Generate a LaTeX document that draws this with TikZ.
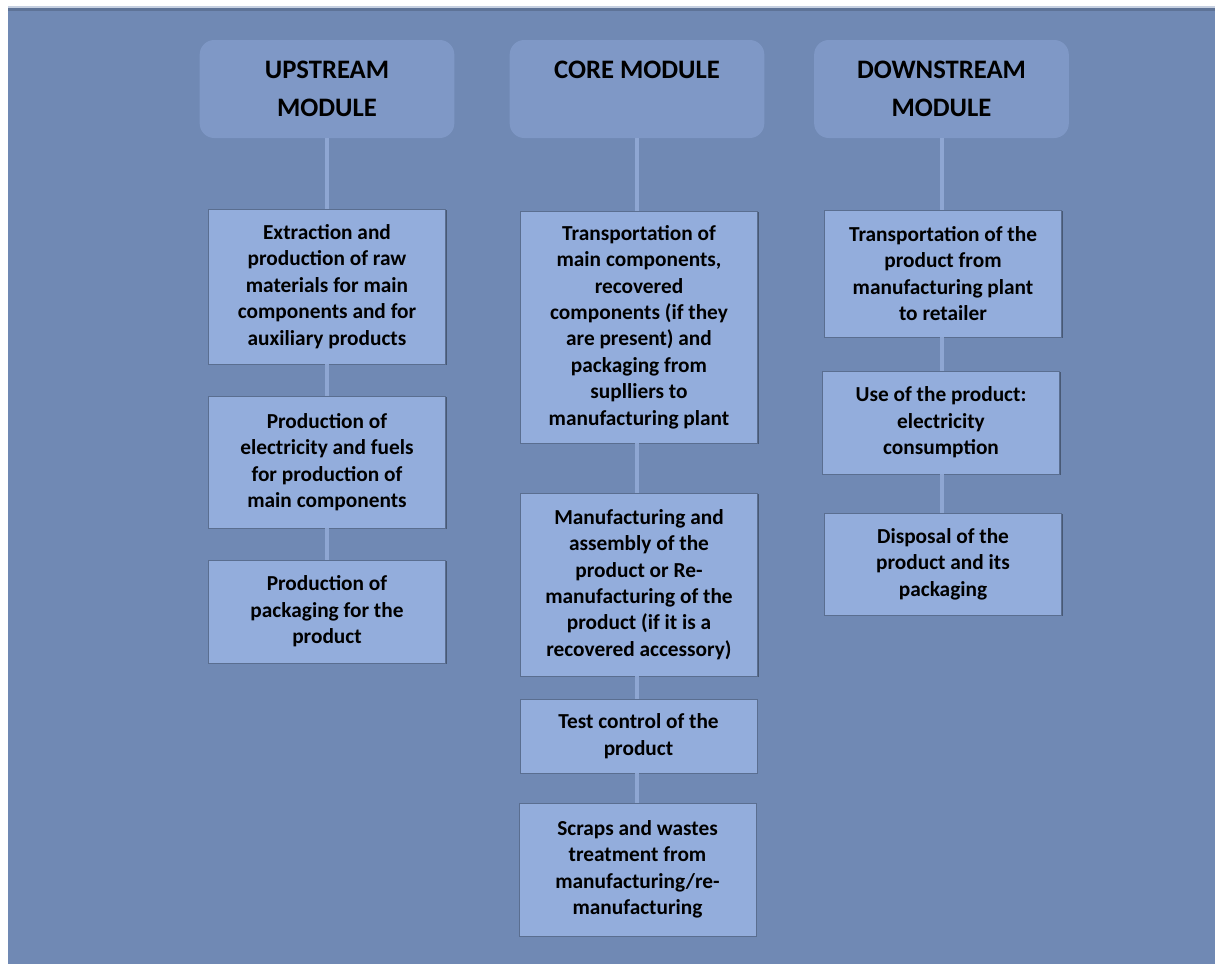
\documentclass[tikz,border=0pt]{standalone}
\usepackage{fontspec}
\setmainfont{Carlito}
\usetikzlibrary{shadows}

\definecolor{panel}{HTML}{7089B4}
\definecolor{headfill}{HTML}{7F98C6}
\definecolor{stagefill}{HTML}{93ADDC}
\definecolor{linkcol}{HTML}{8EA6D2}

\begin{document}
\begin{tikzpicture}[x=0.75pt,y=-0.75pt,
		modhead/.style={rounded corners=11pt, fill=headfill, inner sep=0pt,
			minimum width=191pt, minimum height=73.5pt, align=center,
			font=\fontsize{20}{28.5}\selectfont\bfseries},
		stage/.style={fill=stagefill, draw=panel!80!black, line width=0.4pt,
			drop shadow={shadow xshift=0.8pt, shadow yshift=-0.8pt, opacity=0.35, fill=black},
			inner sep=0pt, minimum width=177.75pt, align=center,
			font=\fontsize{16}{19.8}\selectfont\bfseries},
		link/.style={draw=linkcol, line width=3pt}]
				\useasboundingbox (0,0) rectangle (1215,964);
				% background panel
				\fill[white] (0,0) rectangle (1215,964);
				\fill[panel] (8,7) rectangle (1215,964);
				\fill[panel!65!black, opacity=0.45] (8,7) rectangle (1215,11);
				\fill[panel!40!white] (8,6) rectangle (1215,7.5);

				% module headers
				\node[modhead] (up) at (327,89) {UPSTREAM\\MODULE};
				\node[modhead] (core) at (637,89) {CORE MODULE\\\phantom{M}};
				\node[modhead] (down) at (941.5,89) {DOWNSTREAM\\MODULE};

				% upstream stages
				\node[stage, minimum height=116.25pt] (up1) at (327,286.5) {Extraction and\\production of raw\\materials for main\\components and for\\auxiliary products};
				\node[stage, minimum height=99pt] (up2) at (327,462) {Production of\\electricity and fuels\\for production of\\main components};
				\node[stage, minimum height=77.25pt] (up3) at (327,611.5) {Production of\\packaging for the\\product};

				% core stages
				\node[stage, minimum height=174pt] (core1) at (639,327) {Transportation of\\main components,\\recovered\\components (if they\\are present) and\\packaging from\\suplliers to\\manufacturing plant};
				\node[stage, minimum height=137.25pt] (core2) at (639,584.5) {Manufacturing and\\assembly of the\\product or Re-\\manufacturing of the\\product (if it is a\\recovered accessory)};
				\node[stage, minimum height=55.5pt] (core3) at (638.5,736) {Test control of the\\product};
				\node[stage, minimum height=99.75pt] (core4) at (637.5,869.5) {Scraps and wastes\\treatment from\\manufacturing/re-\\manufacturing};

				% downstream stages
				\node[stage, minimum height=95.25pt] (down1) at (943,273.5) {Transportation of the\\product from\\manufacturing plant\\to retailer};
				\node[stage, minimum height=77.25pt] (down2) at (941,422.5) {Use of the product:\\electricity\\consumption};
				\node[stage, minimum height=76.5pt] (down3) at (943,564) {Disposal of the\\product and its\\packaging};

				% connectors, kept upright under each header
				\foreach \h/\a/\b in {up/up/up1, up/up1/up2, up/up2/up3,
					core/core/core1, core/core1/core2, core/core2/core3, core/core3/core4,
					down/down/down1, down/down1/down2, down/down2/down3} {
					\draw[link] (\h.south |- \a.south) -- (\h.south |- \b.north);
				}
			\end{tikzpicture}
\end{document}
